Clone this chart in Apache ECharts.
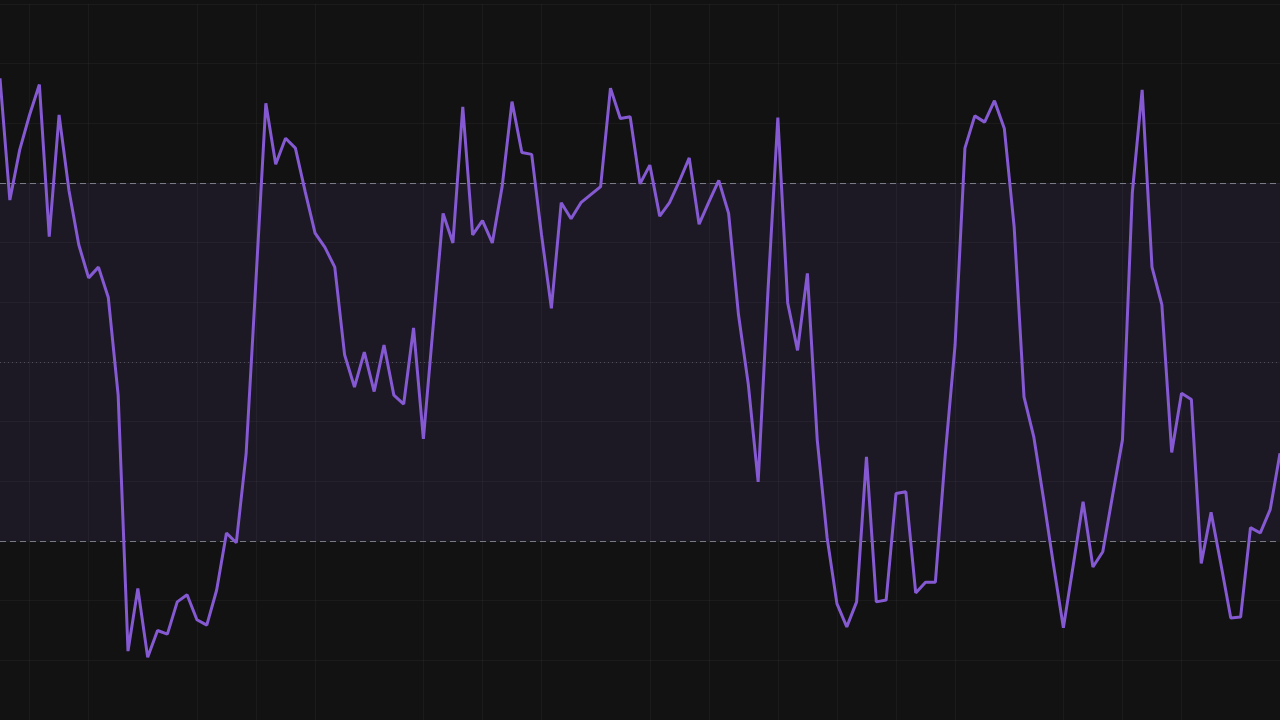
<!DOCTYPE html>
<html>
<head>
<meta charset="utf-8">
<script src="https://cdn.jsdelivr.net/npm/echarts@6/dist/echarts.min.js"></script>
<style>
  html, body { margin: 0; padding: 0; background: #121212; }
  #chart { width: 1280px; height: 720px; }
</style>
</head>
<body>
<div id="chart"></div>
<script>
// RSI values, one per bar
const rsiValues = [
  81.7, 68.1, 73.7, 77.6, 81.0, 64.0, 77.6, 69.2, 63.1, 59.4,
  60.6, 57.2, 46.3, 17.7, 24.7, 17.0, 20.0, 19.6, 23.2, 24.0,
  21.2, 20.6, 24.5, 30.9, 29.8, 39.8, 59.2, 78.9, 72.1, 75.0,
  73.9, 69.0, 64.4, 62.8, 60.6, 50.8, 47.2, 51.1, 46.7, 51.9,
  46.3, 45.3, 53.8, 41.4, 54.1, 66.6, 63.3, 78.5, 64.2, 65.8,
  63.3, 69.6, 79.1, 73.4, 73.2, 64.2, 56.0, 67.8, 66.0, 67.8,
  68.7, 69.6, 80.6, 77.2, 77.4, 69.9, 72.0, 66.3, 67.8, 70.2,
  72.8, 65.4, 67.9, 70.3, 66.6, 55.3, 47.5, 36.6, 58.0, 77.3,
  56.6, 51.3, 59.9, 41.3, 30.4, 23.0, 20.4, 23.2, 39.4, 23.2,
  23.4, 35.3, 35.5, 24.2, 25.4, 25.4, 39.6, 51.9, 73.9, 77.5,
  76.8, 79.2, 76.1, 65.1, 46.1, 41.6, 34.6, 27.3, 20.3, 27.3,
  34.4, 27.1, 28.8, 35.1, 41.3, 68.9, 80.4, 60.6, 56.4, 39.9,
  46.5, 45.8, 27.5, 33.2, 27.4, 21.4, 21.5, 31.5, 30.9, 33.5,
  39.8
];
// bar indices (categories)
const categories = rsiValues.map((_, i) => String(i));
// bars at which the time axis draws a vertical grid line
const timeTickBars = [3, 9, 20, 26, 32, 43, 49, 55, 66, 72, 79, 85, 91, 97, 108, 114, 120];
// RSI levels
const upperBand = 70;
const middleLevel = 50;
const lowerBand = 30;
const yMin = 10;
const yMax = 90;

const tickSet = new Set(timeTickBars);
const chart = echarts.init(document.getElementById('chart'), null, { renderer: 'canvas' });

chart.setOption({
  backgroundColor: '#121212',
  animation: false,
  grid: { left: 0, right: 0, top: 4, bottom: 0, containLabel: false },
  xAxis: {
    type: 'category',
    data: categories,
    boundaryGap: false,
    axisLine: { show: false },
    axisTick: { show: false },
    axisLabel: { show: false },
    splitLine: {
      show: true,
      interval: (idx) => tickSet.has(idx),
      lineStyle: { color: 'rgba(255,255,255,0.04)', width: 1 }
    }
  },
  yAxis: [
    {
      type: 'value',
      min: yMin,
      max: yMax,
      axisLine: { show: false },
      axisTick: { show: false },
      axisLabel: { show: false },
      splitLine: { show: false }
    },
    {
      // helper axis that only draws the horizontal grid (12 equal rows)
      type: 'value',
      min: 0,
      max: 12,
      interval: 1,
      axisLine: { show: false },
      axisTick: { show: false },
      axisLabel: { show: false },
      splitLine: { show: true, lineStyle: { color: 'rgba(255,255,255,0.04)', width: 1 } }
    }
  ],
  series: [
    {
      type: 'line',
      data: rsiValues,
      yAxisIndex: 0,
      showSymbol: false,
      symbol: 'none',
      silent: true,
      lineStyle: { color: '#8559D2', width: 3 },
      z: 5,
      markArea: {
        silent: true,
        itemStyle: { color: 'rgba(126,87,194,0.1)' },
        data: [[{ yAxis: lowerBand }, { yAxis: upperBand }]]
      },
      markLine: {
        silent: true,
        symbol: ['none', 'none'],
        label: { show: false },
        data: [
          { yAxis: upperBand, lineStyle: { color: '#787B86', width: 1, type: [6, 4] } },
          { yAxis: middleLevel, lineStyle: { color: 'rgba(120,123,134,0.5)', width: 1, type: [1, 3] } },
          { yAxis: lowerBand, lineStyle: { color: '#787B86', width: 1, type: [6, 4] } }
        ]
      }
    }
  ]
});
</script>
</body>
</html>
